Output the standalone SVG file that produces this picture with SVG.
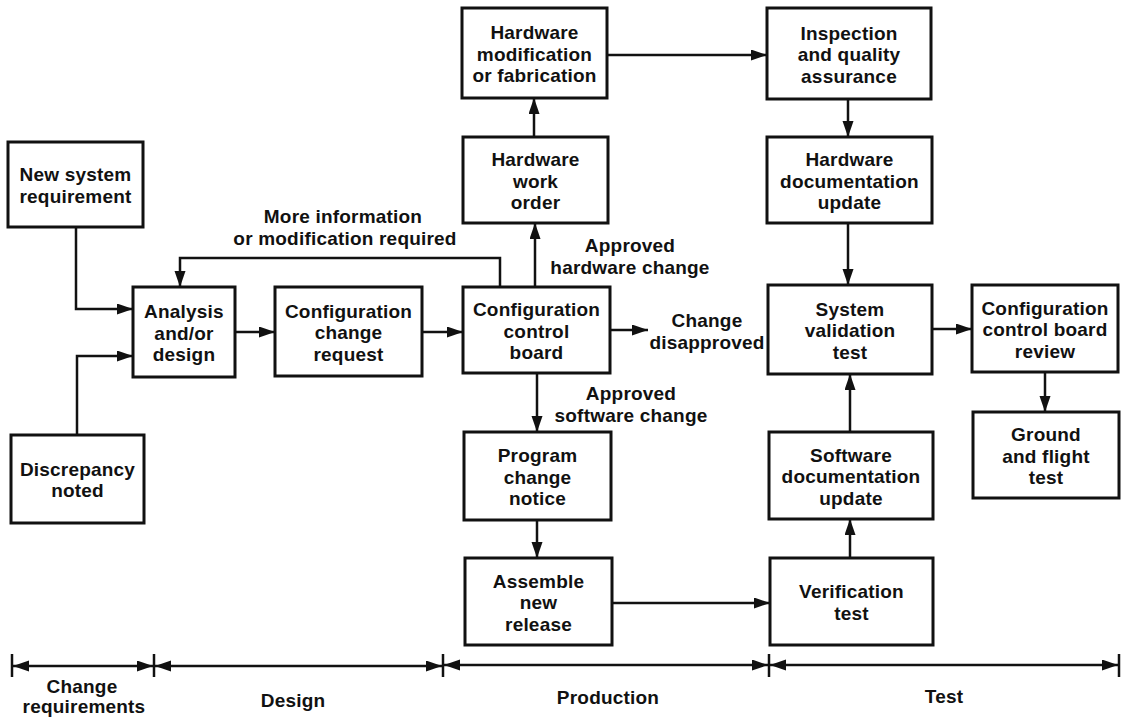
<svg xmlns="http://www.w3.org/2000/svg" width="1121" height="720" viewBox="0 0 1121 720">
<style>
  .box { fill: #ffffff; stroke: #111111; stroke-width: 3; }
  .t { font-family: "Liberation Sans", Arial, Helvetica, sans-serif; font-weight: bold; font-size: 19px; letter-spacing: 0.2px; fill: #111111; text-anchor: middle; }
  .c { fill: none; stroke: #111111; stroke-width: 2.5; }
  .arr { marker-end: url(#ah); }
  .dbl { marker-start: url(#ah); marker-end: url(#ah); }
  .tick { stroke: #111111; stroke-width: 2.5; }
</style>
<defs>
  <marker id="ah" markerUnits="userSpaceOnUse" markerWidth="17" markerHeight="12" refX="16" refY="5.5" orient="auto-start-reverse">
    <path d="M0,0 L16,5.5 L0,11 z" fill="#111111"/>
  </marker>
</defs>
<rect width="1121" height="720" fill="#ffffff"/>

<g id="connectors">
  <path class="c arr" d="M76,227 V309 H133"/>
  <path class="c arr" d="M77,435 V356 H133"/>
  <path class="c arr" d="M235,332 H275"/>
  <path class="c arr" d="M422,332 H463"/>
  <path class="c arr" d="M500,287 V258 H180 V287"/>
  <path class="c arr" d="M535,287 V223"/>
  <path class="c arr" d="M534,137 V98"/>
  <path class="c arr" d="M607,55 H767"/>
  <path class="c arr" d="M610,330 H648"/>
  <path class="c arr" d="M537,373 V432"/>
  <path class="c arr" d="M537,520 V558"/>
  <path class="c arr" d="M612,603 H770"/>
  <path class="c arr" d="M850,558 V519"/>
  <path class="c arr" d="M850,432 V374"/>
  <path class="c arr" d="M848,99 V137"/>
  <path class="c arr" d="M848,223 V285"/>
  <path class="c arr" d="M932,329 H972"/>
  <path class="c arr" d="M1045,372 V412"/>
  <text class="t"><tspan x="343" y="223">More information</tspan><tspan x="345" y="245">or modification required</tspan></text>
  <text class="t"><tspan x="630" y="252">Approved</tspan><tspan x="630" y="274">hardware change</tspan></text>
  <text class="t"><tspan x="707" y="327">Change</tspan><tspan x="707" y="349">disapproved</tspan></text>
  <text class="t"><tspan x="631" y="400">Approved</tspan><tspan x="631" y="422">software change</tspan></text>
</g>

<g id="new_system_requirement">
  <rect class="box" x="8" y="142" width="135" height="85"/>
  <text class="t"><tspan x="75.5" y="181">New system</tspan><tspan x="75.5" y="202.5">requirement</tspan></text>
</g>
<g id="discrepancy_noted">
  <rect class="box" x="11" y="435" width="133" height="88"/>
  <text class="t"><tspan x="77.5" y="475.5">Discrepancy</tspan><tspan x="77.5" y="497">noted</tspan></text>
</g>
<g id="analysis_design">
  <rect class="box" x="133" y="287" width="102" height="90"/>
  <text class="t"><tspan x="184" y="318">Analysis</tspan><tspan x="184" y="339.5">and/or</tspan><tspan x="184" y="361">design</tspan></text>
</g>
<g id="configuration_change_request">
  <rect class="box" x="275" y="287" width="147" height="89"/>
  <text class="t"><tspan x="348.5" y="317.5">Configuration</tspan><tspan x="348.5" y="339">change</tspan><tspan x="348.5" y="360.5">request</tspan></text>
</g>
<g id="configuration_control_board">
  <rect class="box" x="463" y="287" width="147" height="86"/>
  <text class="t"><tspan x="536.5" y="316">Configuration</tspan><tspan x="536.5" y="337.5">control</tspan><tspan x="536.5" y="359">board</tspan></text>
</g>
<g id="hardware_work_order">
  <rect class="box" x="463" y="137" width="145" height="86"/>
  <text class="t"><tspan x="535.5" y="166">Hardware</tspan><tspan x="535.5" y="187.5">work</tspan><tspan x="535.5" y="209">order</tspan></text>
</g>
<g id="hardware_modification">
  <rect class="box" x="462" y="8" width="145" height="90"/>
  <text class="t"><tspan x="534.5" y="39">Hardware</tspan><tspan x="534.5" y="60.5">modification</tspan><tspan x="534.5" y="82">or fabrication</tspan></text>
</g>
<g id="program_change_notice">
  <rect class="box" x="464" y="432" width="147" height="88"/>
  <text class="t"><tspan x="537.5" y="462">Program</tspan><tspan x="537.5" y="483.5">change</tspan><tspan x="537.5" y="505">notice</tspan></text>
</g>
<g id="assemble_new_release">
  <rect class="box" x="465" y="558" width="147" height="87"/>
  <text class="t"><tspan x="538.5" y="587.5">Assemble</tspan><tspan x="538.5" y="609">new</tspan><tspan x="538.5" y="630.5">release</tspan></text>
</g>
<g id="inspection_qa">
  <rect class="box" x="767" y="8" width="164" height="91"/>
  <text class="t"><tspan x="849" y="39.5">Inspection</tspan><tspan x="849" y="61">and quality</tspan><tspan x="849" y="82.5">assurance</tspan></text>
</g>
<g id="hardware_documentation_update">
  <rect class="box" x="767" y="137" width="165" height="86"/>
  <text class="t"><tspan x="849.5" y="166">Hardware</tspan><tspan x="849.5" y="187.5">documentation</tspan><tspan x="849.5" y="209">update</tspan></text>
</g>
<g id="system_validation_test">
  <rect class="box" x="768" y="285" width="164" height="89"/>
  <text class="t"><tspan x="850" y="315.5">System</tspan><tspan x="850" y="337">validation</tspan><tspan x="850" y="358.5">test</tspan></text>
</g>
<g id="software_documentation_update">
  <rect class="box" x="769" y="432" width="164" height="87"/>
  <text class="t"><tspan x="851" y="461.5">Software</tspan><tspan x="851" y="483">documentation</tspan><tspan x="851" y="504.5">update</tspan></text>
</g>
<g id="verification_test">
  <rect class="box" x="770" y="558" width="163" height="87"/>
  <text class="t"><tspan x="851.5" y="598">Verification</tspan><tspan x="851.5" y="619.5">test</tspan></text>
</g>
<g id="ccb_review">
  <rect class="box" x="972" y="285" width="146" height="87"/>
  <text class="t"><tspan x="1045" y="314.5">Configuration</tspan><tspan x="1045" y="336">control board</tspan><tspan x="1045" y="357.5">review</tspan></text>
</g>
<g id="ground_flight_test">
  <rect class="box" x="973" y="412" width="146" height="86"/>
  <text class="t"><tspan x="1046" y="441">Ground</tspan><tspan x="1046" y="462.5">and flight</tspan><tspan x="1046" y="484">test</tspan></text>
</g>

<g id="phases">
  <line class="tick" x1="12" y1="654" x2="12" y2="677"/>
  <line class="tick" x1="154" y1="654" x2="154" y2="677"/>
  <line class="tick" x1="443" y1="654" x2="443" y2="677"/>
  <line class="tick" x1="769" y1="654" x2="769" y2="677"/>
  <line class="tick" x1="1119" y1="654" x2="1119" y2="677"/>
  <path class="c dbl" d="M13,666 H153"/>
  <path class="c dbl" d="M155,666 H442"/>
  <path class="c dbl" d="M444,665 H768"/>
  <path class="c dbl" d="M770,665 H1118"/>
  <text class="t"><tspan x="82" y="693">Change</tspan><tspan x="84" y="713">requirements</tspan></text>
  <text class="t" x="293" y="707">Design</text>
  <text class="t" x="608" y="704">Production</text>
  <text class="t" x="944" y="703">Test</text>
</g>
</svg>
